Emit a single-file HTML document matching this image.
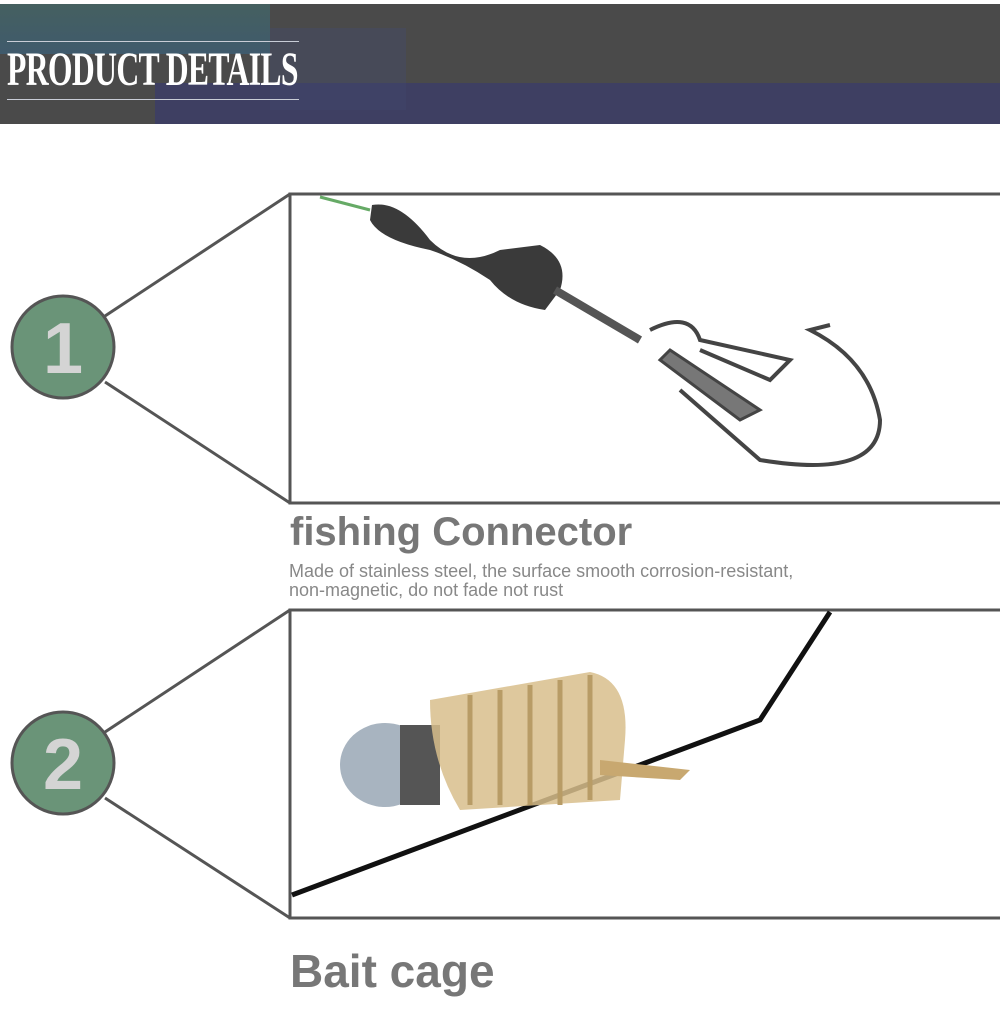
<!DOCTYPE html>
<html><head><meta charset="utf-8"><style>
html,body{margin:0;padding:0;background:#fff;width:1000px;height:1009px;overflow:hidden;position:relative;font-family:"Liberation Sans",sans-serif}
.a{position:absolute}
</style></head><body>
<div class="a" style="left:0;top:4px;width:1000px;height:120px;background:#4a4a4a"></div>
<div class="a" style="left:0;top:4px;width:270px;height:50px;background:linear-gradient(#456060,#3f5a6c)"></div>
<div class="a" style="left:270px;top:28px;width:136px;height:82px;background:#474a58"></div>
<div class="a" style="left:155px;top:83px;width:845px;height:41px;background:#3e3f62"></div>
<div class="a" style="left:270px;top:83px;width:136px;height:27px;background:#3f4266"></div>
<div class="a" style="left:7px;top:41px;width:292px;height:1px;background:#c8ccd6"></div>
<div class="a" style="left:7px;top:99px;width:292px;height:1px;background:#c8ccd6"></div>
<div class="a" style="left:7px;top:44px;font-family:'Liberation Serif',serif;font-weight:bold;font-size:48px;color:#fff;transform:scaleX(0.66);transform-origin:left;letter-spacing:-1px;white-space:nowrap;line-height:52px">PRODUCT DETAILS</div>

<svg class="a" style="left:0;top:0" width="1000" height="1009">
<g stroke="#555" stroke-width="3" fill="none">
<line x1="105" y1="316" x2="290" y2="194"/><line x1="105" y1="382" x2="290" y2="503"/>
<rect x="290" y="194" width="715" height="309"/>
<line x1="105" y1="732" x2="290" y2="610"/><line x1="105" y1="798" x2="290" y2="918"/>
<rect x="290" y="610" width="715" height="308"/>
</g>
<circle cx="63" cy="347" r="51" fill="#6a9478" stroke="#555" stroke-width="3"/>
<circle cx="63" cy="763" r="51" fill="#6a9478" stroke="#555" stroke-width="3"/>
<text x="63" y="373" text-anchor="middle" font-family="Liberation Sans" font-weight="bold" font-size="72" fill="#d4d4d4">1</text>
<text x="63" y="789" text-anchor="middle" font-family="Liberation Sans" font-weight="bold" font-size="72" fill="#d4d4d4">2</text>
<path d="M320 197 L370 210" stroke="#6a6" stroke-width="3"/>
<path d="M372 205 Q400 200 430 240 Q460 270 500 250 L540 245 Q570 260 560 290 L545 310 Q510 305 490 280 Q460 260 430 250 Q380 240 370 220 Z" fill="#3a3a3a"/>
<path d="M555 290 L640 340" stroke="#555" stroke-width="8"/>
<path d="M670 350 L760 410 L740 420 L660 360 Z" fill="#777" stroke="#444" stroke-width="3"/>
<path d="M650 330 Q690 310 700 340 L790 360 L770 380 L700 350" fill="none" stroke="#444" stroke-width="4"/>
<path d="M680 390 L760 460 Q880 480 880 420 Q870 360 810 330 L830 325" fill="none" stroke="#444" stroke-width="4"/>
<path d="M292 895 L720 735 L760 720 L830 612" stroke="#111" stroke-width="5" fill="none"/>
<ellipse cx="385" cy="765" rx="45" ry="42" fill="#a8b4c0"/>
<rect x="400" y="725" width="40" height="80" fill="#555"/>
<path d="M430 700 L590 672 Q630 680 625 740 L620 800 L460 810 Q430 760 430 700 Z" fill="#d8be8c" opacity="0.85"/>
<g stroke="#b89c66" stroke-width="5" fill="none">
<line x1="470" y1="695" x2="470" y2="805"/><line x1="500" y1="690" x2="500" y2="805"/><line x1="530" y1="685" x2="530" y2="805"/><line x1="560" y1="680" x2="560" y2="805"/><line x1="590" y1="675" x2="590" y2="800"/>
</g>
<path d="M600 760 L690 770 L680 780 L600 775Z" fill="#c8a870"/>
</svg>

<div class="a" style="left:290px;top:505px;font-size:40px;font-weight:bold;color:#777;line-height:54px">fishing Connector</div>
<div class="a" style="left:289px;top:562px;font-size:18px;color:#888;line-height:19px;white-space:nowrap">Made of stainless steel, the surface smooth corrosion-resistant,<br>non-magnetic, do not fade not rust</div>
<div class="a" style="left:290px;top:941px;font-size:46px;font-weight:bold;color:#777;line-height:60px">Bait cage</div>
</body></html>
